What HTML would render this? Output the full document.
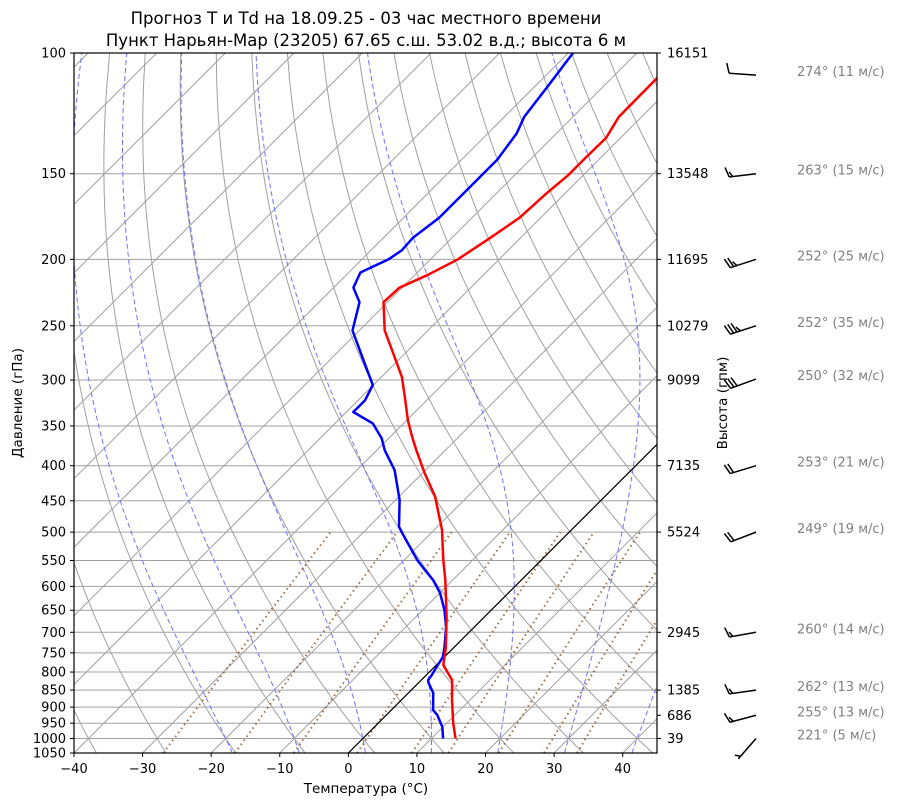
<!DOCTYPE html>
<html><head><meta charset="utf-8"><style>
body{margin:0;background:#fff;}
svg{display:block;font-family:"DejaVu Sans","Liberation Sans",sans-serif;}
</style></head><body>
<svg id="chart" width="900" height="806" viewBox="0 0 900 806" xmlns="http://www.w3.org/2000/svg">
<defs><clipPath id="plotclip"><rect x="74" y="53" width="583" height="700"/></clipPath></defs>
<text x="366" y="24" font-size="16.5" text-anchor="middle">Прогноз T и Td на 18.09.25 - 03 час местного времени</text>
<text x="366" y="46" font-size="16.5" text-anchor="middle">Пункт Нарьян-Мар (23205) 67.65 с.ш. 53.02 в.д.; высота 6 м</text>
<g id="bg" clip-path="url(#plotclip)"></g>
<g id="series" clip-path="url(#plotclip)"></g>
<rect x="74" y="53" width="583" height="700" fill="none" stroke="#000" stroke-width="1.2"/>
<g id="axes"></g>
<text x="366" y="793" font-size="13.5" text-anchor="middle">Температура (°C)</text>
<text transform="translate(22,403) rotate(-90)" font-size="13.5" text-anchor="middle">Давление (гПа)</text>
<text transform="translate(727,403) rotate(-90)" font-size="13.5" text-anchor="middle">Высота (гпм)</text>
<g id="winds"></g>
</svg>
<script>
const tP=[1000,949,879,822,803,781,738,665,587,549,496,464,444,410,380,363,343,318,297,280,254,231,220,211,200,186,174,160,151,143,133,124,109,100];
const tT=[13.5,10.9,7.4,4.5,2.9,1.0,-1.1,-5.5,-11.1,-14.3,-18.9,-22.4,-24.7,-29.7,-34.2,-36.8,-39.9,-43.6,-47.0,-50.5,-56.3,-60.6,-60.4,-58.2,-56.0,-54.4,-53.1,-52.7,-52.2,-52.2,-52.1,-53.3,-53.4,-54];
const dP=[1000,962,924,909,858,830,822,808,781,761,736,688,650,613,587,568,549,501,491,449,406,380,365,347,334,321,305,280,254,231,220,209,200,194,186,174,158,151,143,131,124,112,100];
const dT=[11.7,9.9,7.4,6.1,3.6,1.5,1.0,0.8,0.2,-0.2,-1.4,-4.1,-6.8,-10.0,-12.9,-15.5,-18.1,-24.3,-25.6,-29.4,-34.5,-38.8,-41.0,-44.5,-49.0,-49.0,-50.1,-55.2,-61.0,-64.1,-67.1,-68.3,-66.1,-65.5,-65.7,-64.8,-64.8,-64.8,-64.8,-65.8,-67.1,-68.1,-69.3];
const pTicks=[100,150,200,250,300,350,400,450,500,550,600,650,700,750,800,850,900,950,1000,1050];
const tTicks=[-40,-30,-20,-10,0,10,20,30,40];
const hP=[100,150,200,250,300,400,500,700,850,925,1000];
const hLabels=["16151","13548","11695","10279","9099","7135","5524","2945","1385","686","39"];
const windP=[107.7,150,200,250,299,400,500,700,850,925,1000];
const windDir=[274,263,252,252,250,253,249,260,262,255,221];
const windSpd=[11,15,25,35,32,21,19,14,13,13,5];

const NS="http://www.w3.org/2000/svg";
function yP(p){return 53+700*Math.log(p/100)/Math.log(10.5);}
function xT(t,p){return 74+(t+40)*583/85+(753-yP(p));}
function mk(tag,attrs,parent){const e=document.createElementNS(NS,tag);for(const k in attrs)e.setAttribute(k,attrs[k]);parent.appendChild(e);return e;}
function pathFrom(pts){return pts.map((q,i)=>(i?'L':'M')+q[0].toFixed(1)+' '+q[1].toFixed(1)).join(' ');}
const bg=document.getElementById('bg'),ser=document.getElementById('series'),ax=document.getElementById('axes'),wg=document.getElementById('winds');

pTicks.forEach(p=>{const l=mk('line',{x1:74,x2:657,y1:yP(p),y2:yP(p),stroke:'#a0a0a0','stroke-width':1},bg);

});
for(let t=-160;t<=40;t+=10){const l=mk('line',{x1:xT(t,1050),y1:yP(1050),x2:xT(t,100),y2:yP(100),stroke:'#a0a0a0','stroke-width':1},bg);

}
for(let th=-50;th<=200;th+=10){const pts=[];for(let p=1050;p>=100;p-=10){const T=(th+273.15)*Math.pow(p/1000,0.2857)-273.15;pts.push([xT(T,p),yP(p)]);}
const e=mk('path',{d:pathFrom(pts),fill:'none',stroke:'#a0a0a0','stroke-width':1},bg);

}
function es(tc){return 6.112*Math.exp(17.67*tc/(tc+243.5));}
function dTdp(T,p){const Rd=287.04,Cp=1005.7,L=2.501e6,eps=0.622;const e=es(T-273.15);const rs=eps*e/(p-e);return (1/p)*(Rd*T+L*rs)/(Cp+L*L*rs*eps/(Rd*T*T));}
function moist(t0){const up=[],dn=[];let T=t0+273.15;for(let p=1000;p>=100;p-=2){up.push([p,T]);const k1=dTdp(T,p),k2=dTdp(T-k1,p-1),k3=dTdp(T-k2,p-1),k4=dTdp(T-2*k3,p-2);T-=2*(k1+2*k2+2*k3+k4)/6;}
T=t0+273.15;for(let p=1000;p<=1050;p+=2){dn.push([p,T]);T+=2*dTdp(T,p);}
return dn.reverse().concat(up).map(a=>[xT(a[1]-273.15,a[0]),yP(a[0])]);}
for(let t0=-20;t0<=40;t0+=10){const e=mk('path',{d:pathFrom(moist(t0)),fill:'none',stroke:'#7070ff','stroke-width':1,'stroke-dasharray':'5,3'},bg);

}
[0.0004,0.001,0.002,0.004,0.007,0.01,0.016,0.024,0.032].forEach(w=>{const pts=[];for(let p=1050;p>=500;p-=10){const e=w*p/(0.622+w);const a=Math.log(e/6.112);const td=243.5*a/(17.67-a);pts.push([xT(td,p),yP(p)]);}
const e=mk('path',{d:pathFrom(pts),fill:'none',stroke:'#8b5a2b','stroke-width':2,'stroke-dasharray':'1.5,3.5','stroke-opacity':0.85},bg);

});
const z=mk('line',{x1:xT(0,1050),y1:yP(1050),x2:xT(0,100),y2:yP(100),stroke:'#000','stroke-width':1.2},bg);


const dd=mk('path',{d:pathFrom(dP.map((p,i)=>[xT(dT[i],p),yP(p)])),fill:'none',stroke:'#0000ff','stroke-width':2.5,'stroke-linejoin':'round'},ser);


const tt=mk('path',{d:pathFrom(tP.map((p,i)=>[xT(tT[i],p),yP(p)])),fill:'none',stroke:'#ff0000','stroke-width':2.5,'stroke-linejoin':'round'},ser);


pTicks.forEach(p=>{const y=yP(p);mk('line',{x1:70,x2:74,y1:y,y2:y,stroke:'#000'},ax);
const t=mk('text',{x:66,y:y+4.5,'font-size':13,'text-anchor':'end'},ax);t.textContent=p;

});
tTicks.forEach(v=>{const x=74+(v+40)*583/85;mk('line',{x1:x,x2:x,y1:753,y2:757,stroke:'#000'},ax);
const t=mk('text',{x:x,y:773,'font-size':13,'text-anchor':'middle'},ax);t.textContent=(v<0?'\u2212':'')+Math.abs(v);

});
hP.forEach((p,i)=>{const y=yP(p);mk('line',{x1:657,x2:661,y1:y,y2:y,stroke:'#000'},ax);
const t=mk('text',{x:667,y:y+4.5,'font-size':13},ax);t.textContent=hLabels[i];

});
windP.forEach((p,i)=>{const by=yP(p),bx=756,d=windDir[i]*Math.PI/180,L=27;
const ux=Math.sin(d),uy=-Math.cos(d);const tx=bx+ux*L,ty=by+uy*L;
const g=mk('g',{},wg);


mk('line',{x1:bx,y1:by,x2:tx,y2:ty,stroke:'#000','stroke-width':1.5},g);
let s=Math.round(windSpd[i]/5)*5;let full=Math.floor(s/10),half=(s%10)>=5?1:0;
const px=-uy,py=ux;let pos=0;
const barb=(k,len)=>{const sx=tx-ux*k*3.5,sy=ty-uy*k*3.5;mk('line',{x1:sx,y1:sy,x2:sx+px*len+ux*3,y2:sy+py*len+uy*3,stroke:'#000','stroke-width':1.5},g);};
for(let f=0;f<full;f++){barb(pos,10);pos++;}
if(half){if(full===0)pos=1;barb(pos,5);}
const t=mk('text',{x:797,y:by+1,'font-size':13,fill:'#808080'},wg);t.textContent=windDir[i]+'° ('+windSpd[i]+' м/с)';

});
</script>
</body></html>
